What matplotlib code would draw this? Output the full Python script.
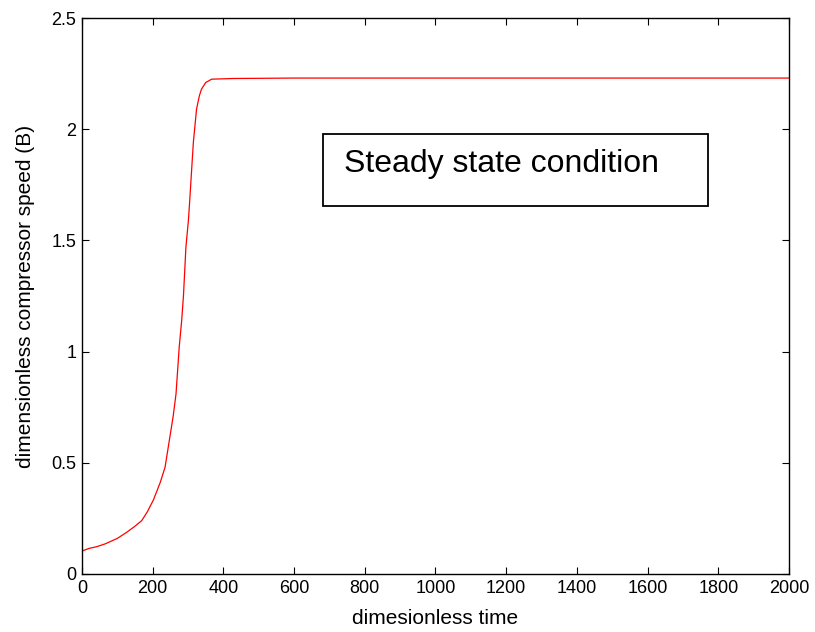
import numpy as np
import matplotlib
matplotlib.use("Agg")
from matplotlib import pyplot as plt
from matplotlib.patches import Rectangle

plt.rcParams['font.family'] = ['Liberation Sans', 'DejaVu Sans']

# dimensionless time / compressor speed
t = [0, 20, 40, 65, 100, 126, 150, 169, 185, 202, 221, 235, 249, 258, 266,
     275, 282, 287, 294, 301, 304, 315, 324, 332, 338, 350, 367, 428, 600,
     1000, 1500, 2000]
B = [0.103, 0.115, 0.122, 0.135, 0.16, 0.187, 0.215, 0.24, 0.28, 0.333,
     0.41, 0.48, 0.62, 0.71, 0.81, 1.02, 1.14, 1.25, 1.47, 1.59, 1.66,
     1.94, 2.09, 2.15, 2.18, 2.21, 2.225, 2.228, 2.23, 2.23, 2.23, 2.23]

xticks = np.arange(0, 2001, 200)
yticks = [0, 0.5, 1, 1.5, 2, 2.5]
note = "Steady state condition"

fig = plt.figure(figsize=(8.15, 6.32), dpi=100)
ax = fig.add_axes([0.1006, 0.0918, 0.8675, 0.8797])

ax.plot(t, B, color='red', lw=0.9)
ax.set_xlim(0, 2000)
ax.set_ylim(0, 2.5)
ax.set_xticks(xticks)
ax.set_yticks(yticks)
ax.set_yticklabels(['0', '0.5', '1', '1.5', '2', '2.5'])
ax.tick_params(direction='in', top=True, right=True, length=5, width=0.8,
               labelsize=13, pad=4)
for s in ax.spines.values():
    s.set_linewidth(1.0)

ax.set_xlabel('dimesionless time', fontsize=15, labelpad=9)
ax.set_ylabel('dimensionless compressor speed (B)', fontsize=15, labelpad=12)

# annotation box
ax.add_patch(Rectangle((0.3409, 0.662), 0.5445, 0.129, transform=ax.transAxes,
                       fill=False, edgecolor='black', lw=1.3))
ax.text(0.3699, 0.738, note, transform=ax.transAxes, fontsize=23,
        ha='left', va='center')

fig.savefig('out.png', dpi=100)
